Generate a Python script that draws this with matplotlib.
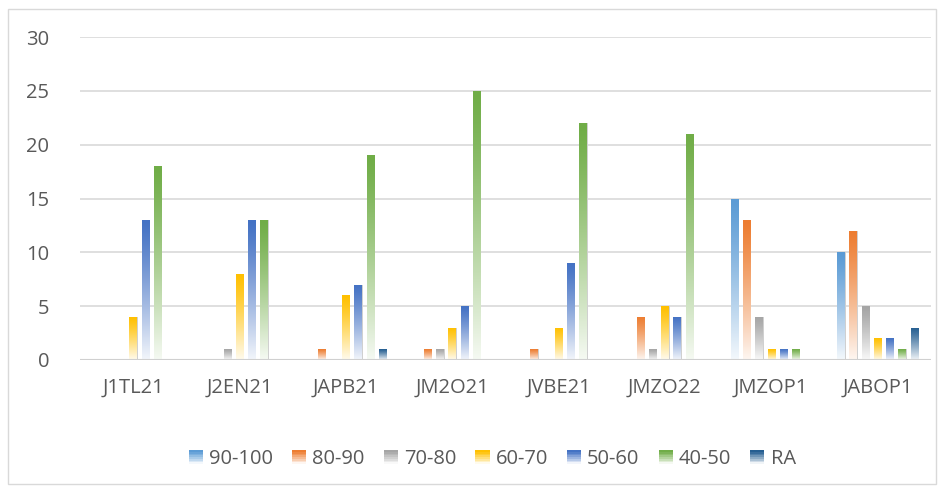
import matplotlib.pyplot as plt
import numpy as np
from matplotlib.colors import to_rgb
from matplotlib.patches import Rectangle
from matplotlib.legend_handler import HandlerBase

categories = ['J1TL21', 'J2EN21', 'JAPB21', 'JM2O21', 'JVBE21', 'JMZO22', 'JMZOP1', 'JABOP1']
series = ['90-100', '80-90', '70-80', '60-70', '50-60', '40-50', 'RA']
v_90_100 = [0, 0, 0, 0, 0, 0, 15, 10]
v_80_90 = [0, 0, 1, 1, 1, 4, 13, 12]
v_70_80 = [0, 1, 0, 1, 0, 1, 4, 5]
v_60_70 = [4, 8, 6, 3, 3, 5, 1, 2]
v_50_60 = [13, 13, 7, 5, 9, 4, 1, 2]
v_40_50 = [18, 13, 19, 25, 22, 21, 1, 1]
v_ra = [0, 0, 1, 0, 0, 0, 0, 3]
values = [v_90_100, v_80_90, v_70_80, v_60_70, v_50_60, v_40_50, v_ra]
colors = ['#5B9BD5', '#ED7D31', '#A5A5A5', '#FFC000', '#4472C4', '#70AD47', '#255E91']

plt.rcParams['font.family'] = ['Open Sans', 'DejaVu Sans']


def gradient(color, n=64):
    c = np.array(to_rgb(color))
    t = np.linspace(0, 1, n)[:, None]  # 0 top, 1 bottom
    white = np.ones(3)
    mix = t ** 1.2 * 0.93
    return (c * (1 - mix) + white * mix)[:, None, :]


fig = plt.figure(figsize=(9.44, 4.87), dpi=100)
ax = fig.add_axes([0.0847, 0.2608, 0.9013, 0.6632])

x = np.arange(len(categories))
step = 0.115
width = 0.07
for i, (name, vals, col) in enumerate(zip(series, values, colors)):
    bars = ax.bar(x + (i - 3) * step, vals, width, color='none', edgecolor='none', label=name, zorder=3)
    img = gradient(col)
    for b in bars:
        h = b.get_height()
        if h <= 0:
            continue
        x0 = b.get_x()
        im = ax.imshow(img, extent=(x0, x0 + b.get_width(), 0, h), aspect='auto', zorder=3, interpolation='bilinear')
        im.set_clip_path(b)
        ax.add_patch(Rectangle((x0 + b.get_width(), 0), width * 0.12, h, color='#D0D0D0', zorder=2.9, lw=0))

ax.set_xlim(-0.5, len(categories) - 0.5)
ax.set_ylim(0, 30)
ax.set_yticks(range(0, 31, 5))
ax.set_xticks(x)
ax.set_xticklabels(categories)
ax.grid(axis='y', color='#D9D9D9', linewidth=1.2, zorder=0)
ax.set_axisbelow(True)
for s in ax.spines.values():
    s.set_visible(False)
ax.axhline(0, color='#D0D0D0', linewidth=1.5, zorder=4)
ax.tick_params(length=0, labelsize=14.5, labelcolor='#595959')
ax.tick_params(axis='y', pad=22)
ax.tick_params(axis='x', pad=13)


class GradHandler(HandlerBase):
    def __init__(self, color):
        super().__init__()
        self.color = color

    def create_artists(self, legend, orig_handle, xdescent, ydescent, width, height, fontsize, trans):
        g = gradient(self.color, 8)[:, 0, :]
        size = height * 1.0
        x0 = xdescent * -1 + width - size
        arts = []
        for k in range(8):
            arts.append(Rectangle((x0, -ydescent + size * (1 - (k + 1) / 8)), size, size / 8,
                                  facecolor=g[k], edgecolor='none', transform=trans))
        return arts


handles, labels = ax.get_legend_handles_labels()
hmap = {h: GradHandler(c) for h, c in zip(handles, colors)}
leg = fig.legend(handles, labels, handler_map=hmap, loc='center', bbox_to_anchor=(0.522, 0.057),
                 ncol=7, frameon=False, fontsize=14.5, handlelength=0.65, handletextpad=0.3,
                 columnspacing=1.0)
for t in leg.get_texts():
    t.set_color('#595959')

fig.patches.append(Rectangle((0.008, 0.006), 0.983, 0.976, transform=fig.transFigure,
                             fill=False, edgecolor='#D9D9D9', linewidth=1))

plt.savefig('out.png')
